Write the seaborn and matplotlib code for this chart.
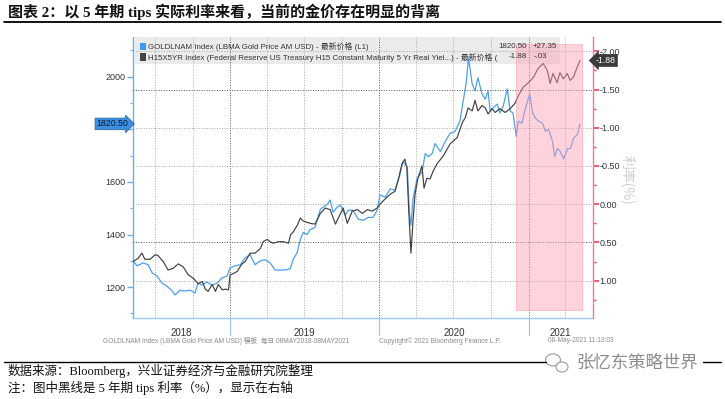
import numpy as np
import pandas as pd
import matplotlib
matplotlib.use("Agg")
import matplotlib.pyplot as plt
import matplotlib.dates as mdates
import matplotlib.ticker as mticker
import matplotlib.transforms as mtrans
from matplotlib.patches import Rectangle, Ellipse
from matplotlib.lines import Line2D
from matplotlib import font_manager as fm
import seaborn as sns

# ---------------- data ----------------
gold_dates = [
    "2018-05-08", "2018-05-18", "2018-06-02", "2018-06-14", "2018-06-24", "2018-07-06", "2018-07-18",
    "2018-07-30", "2018-08-12", "2018-08-19", "2018-08-31", "2018-09-12", "2018-09-25", "2018-10-07",
    "2018-10-14", "2018-10-24", "2018-11-05", "2018-11-18", "2018-11-30", "2018-12-12", "2018-12-24",
    "2019-01-01", "2019-01-13", "2019-01-26", "2019-02-07", "2019-02-19", "2019-03-03", "2019-03-16",
    "2019-03-28", "2019-04-09", "2019-04-21", "2019-05-04", "2019-05-16", "2019-05-28", "2019-06-04",
    "2019-06-14", "2019-06-22", "2019-06-29", "2019-07-09", "2019-07-16", "2019-07-28", "2019-08-10",
    "2019-08-17", "2019-08-27", "2019-09-03", "2019-09-10", "2019-09-20", "2019-09-28", "2019-10-10",
    "2019-10-17", "2019-10-29", "2019-11-11", "2019-11-23", "2019-12-05", "2019-12-17", "2019-12-27",
    "2020-01-03", "2020-01-16", "2020-01-28", "2020-02-09", "2020-02-21", "2020-02-28", "2020-03-10",
    "2020-03-15", "2020-03-19", "2020-03-24", "2020-04-03", "2020-04-15", "2020-04-23", "2020-04-30",
    "2020-05-10", "2020-05-17", "2020-05-30", "2020-06-11", "2020-06-23", "2020-07-05", "2020-07-17",
    "2020-07-25", "2020-08-01", "2020-08-07", "2020-08-16", "2020-08-23", "2020-08-30", "2020-09-09",
    "2020-09-17", "2020-09-24", "2020-09-29", "2020-10-06", "2020-10-16", "2020-10-23", "2020-10-31",
    "2020-11-10", "2020-11-17", "2020-11-24", "2020-12-02", "2020-12-07", "2020-12-16", "2020-12-24",
    "2021-01-04", "2021-01-11", "2021-01-18", "2021-01-26", "2021-02-04", "2021-02-12", "2021-02-19",
    "2021-03-01", "2021-03-06", "2021-03-13", "2021-03-20", "2021-03-28", "2021-04-07", "2021-04-14",
    "2021-04-21", "2021-05-01", "2021-05-07",
]
gold_values = [
    1300, 1281, 1292, 1285, 1254, 1242, 1215, 1204, 1185, 1170, 1188, 1185, 1188, 1177, 1215, 1208,
    1219, 1208, 1215, 1235, 1242,
    1273, 1281, 1285, 1312, 1323, 1285, 1300, 1304, 1292, 1265, 1265, 1265, 1269, 1304, 1331, 1381,
    1408, 1400, 1419, 1427, 1496, 1504, 1515, 1531, 1485, 1504, 1512, 1473, 1492, 1492, 1458, 1454,
    1465, 1465, 1492,
    1550, 1542, 1573, 1569, 1627, 1677, 1658, 1485, 1435, 1535, 1612, 1638, 1708, 1696, 1708, 1746,
    1715, 1754, 1785, 1792, 1831, 1908, 1973, 2070, 1973, 1946, 1996, 1935, 1915, 1946, 1869, 1881,
    1896, 1862, 1888, 1954, 1869, 1862, 1773, 1831, 1823, 1877,
    1935, 1862, 1842, 1831, 1823, 1792, 1800, 1754, 1696, 1727, 1715, 1688, 1727, 1727, 1765, 1781,
    1820.5,
]

rate_dates = [
    "2018-05-08", "2018-05-20", "2018-05-30", "2018-06-06", "2018-06-19", "2018-07-01", "2018-07-08",
    "2018-07-21", "2018-08-02", "2018-08-14", "2018-08-27", "2018-09-08", "2018-09-20", "2018-10-03",
    "2018-10-15", "2018-10-25", "2018-11-01", "2018-11-08", "2018-11-18", "2018-11-26", "2018-12-03",
    "2018-12-13", "2018-12-20", "2018-12-28",
    "2019-01-01", "2019-01-08", "2019-01-18", "2019-01-30", "2019-02-07", "2019-02-19", "2019-03-03",
    "2019-03-16", "2019-03-23", "2019-04-02", "2019-04-09", "2019-04-17", "2019-04-29", "2019-05-12",
    "2019-05-24", "2019-05-29", "2019-06-05", "2019-06-15", "2019-06-22", "2019-06-29", "2019-07-16",
    "2019-07-28", "2019-08-10", "2019-08-22", "2019-09-03", "2019-09-16", "2019-09-23", "2019-10-05",
    "2019-10-15", "2019-10-27", "2019-11-09", "2019-11-21", "2019-12-03", "2019-12-15", "2019-12-27",
    "2020-01-03", "2020-01-16", "2020-01-28", "2020-02-09", "2020-02-16", "2020-02-26", "2020-03-04",
    "2020-03-09", "2020-03-14", "2020-03-19", "2020-03-24", "2020-03-29", "2020-04-05", "2020-04-15",
    "2020-04-20", "2020-04-27", "2020-05-05", "2020-05-12", "2020-05-22", "2020-06-06", "2020-06-23",
    "2020-07-10", "2020-07-23", "2020-07-30", "2020-08-06", "2020-08-16", "2020-08-23", "2020-08-30",
    "2020-09-09", "2020-09-17", "2020-09-24", "2020-10-04", "2020-10-11", "2020-10-23", "2020-11-05",
    "2020-11-17", "2020-11-29", "2020-12-07", "2020-12-19",
    "2021-01-01", "2021-01-13", "2021-01-25", "2021-02-06", "2021-02-16", "2021-02-23", "2021-03-02",
    "2021-03-12", "2021-03-19", "2021-03-27", "2021-04-06", "2021-04-13", "2021-04-21", "2021-04-30",
    "2021-05-07",
]
rate_values = [
    0.75, 0.71, 0.64, 0.72, 0.72, 0.66, 0.67, 0.75, 0.86, 0.84, 0.78, 0.82, 0.92, 0.97, 1.04, 1.01,
    1.11, 1.14, 1.05, 1.14, 1.05, 1.12, 1.11, 1.12,
    0.92, 0.91, 0.88, 0.78, 0.75, 0.64, 0.64, 0.58, 0.49, 0.46, 0.49, 0.51, 0.49, 0.49, 0.51, 0.40,
    0.36, 0.27, 0.18, 0.22, 0.25, 0.26, 0.12, 0.05, 0.07, 0.26, 0.18, 0.05, 0.25, 0.09, 0.07, 0.12,
    0.07, 0.09, 0.05,
    0.00, -0.07, -0.13, -0.17, -0.30, -0.53, -0.59, -0.47, 0.13, 0.64, 0.22, -0.13, -0.34, -0.50,
    -0.21, -0.34, -0.33, -0.43, -0.53, -0.63, -0.79, -0.87, -1.07, -1.13, -1.26, -1.22, -1.36, -1.22,
    -1.29, -1.26, -1.18, -1.25, -1.20, -1.25, -1.20, -1.25, -1.32, -1.42, -1.53,
    -1.59, -1.66, -1.78, -1.84, -1.75, -1.58, -1.71, -1.59, -1.72, -1.64, -1.71, -1.62, -1.66, -1.79,
    -1.88,
]

gold_ticks = [1200, 1400, 1600, 1800, 2000]
rate_ticks = [-2.0, -1.5, -1.0, -0.5, 0.0, 0.5, 1.0]
year_labels = [2018, 2019, 2020, 2021]
shade_start, shade_end = "2020-12-02", "2021-05-13"
gold_last, gold_chg = "1820.50", "+27.35"
rate_last, rate_chg = "-1.88", "-.03"

title = "图表 2：以 5 年期 tips 实际利率来看，当前的金价存在明显的背离"
legend1 = "GOLDLNAM Index (LBMA Gold Price AM USD) - 最新价格 (L1)"
legend2 = "H15X5YR Index (Federal Reserve US Treasury H15 Constant Maturity 5 Yr Real Yiel...) - 最新价格 ("
source = "数据来源：Bloomberg，兴业证券经济与金融研究院整理"
note = "注：图中黑线是 5 年期 tips 利率（%），显示在右轴"
foot1 = "GOLDLNAM Index (LBMA Gold Price AM USD) 模板  每日 08MAY2018-08MAY2021"
foot2 = "Copyright© 2021 Bloomberg Finance L.P."
foot3 = "08-May-2021 11:13:03"
watermark = "张忆东策略世界"
right_title = "利率(%)"

gold_df = pd.DataFrame({"date": pd.to_datetime(gold_dates), "gold": gold_values})
rate_df = pd.DataFrame({"date": pd.to_datetime(rate_dates), "rate": rate_values})

# ---------------- style ----------------
sns.set_style("white")
plt.rcParams["font.family"] = ["Liberation Sans", "Noto Sans CJK SC", "DejaVu Sans"]
plt.rcParams["axes.unicode_minus"] = False

names = {f.name for f in fm.fontManager.ttflist}
if "Liberation Sans Narrow" in names:
    small_font = ["Liberation Sans Narrow", "Noto Sans CJK SC"]
    leg_fs = 6.3
else:
    small_font = ["Liberation Sans", "Noto Sans CJK SC"]
    leg_fs = 5.65
serif_cjk = ["Liberation Serif", "Noto Sans CJK SC", "DejaVu Sans"]

BLUE = "#4a9ff5"
DARK = "#404040"
RED = "#f0506e"
AXBLUE = "#6aaef0"

W, H = 725, 399
fig = plt.figure(figsize=(W / 100, H / 100), dpi=100)


def fx(px):
    return px / W


def fy(py):
    return 1 - py / H


ax = fig.add_axes([fx(133), fy(318), fx(593) - fx(133), fy(37) - fy(318)])
ax2 = ax.twinx()

x0, x1 = pd.Timestamp("2018-05-08"), pd.Timestamp("2021-06-08")

# lines
sns.lineplot(data=gold_df, x="date", y="gold", ax=ax, color=BLUE, lw=0.9, zorder=3)
sns.lineplot(data=rate_df, x="date", y="rate", ax=ax2, color=DARK, lw=0.85, zorder=3)

ax.set_xlim(x0, x1)
ax.set_ylim(1082.5, 2151)
ax2.set_ylim(1.488, -2.187)
for a in (ax, ax2):
    a.set_xlabel("")
    a.set_ylabel("")

# spines
for s in ("top", "right"):
    ax.spines[s].set_visible(False)
for s in ("top", "left", "bottom"):
    ax2.spines[s].set_visible(False)
ax.spines["left"].set_color(AXBLUE)
ax.spines["bottom"].set_color("#9cc9f2")
ax2.spines["right"].set_color("#f57a90")
for s in ("left", "bottom"):
    ax.spines[s].set_linewidth(1.0)
ax2.spines["right"].set_linewidth(1.0)

# y ticks (left, gold) - the 1800 label sits under the last-value tag
ax.set_yticks(gold_ticks)
ax.yaxis.set_minor_locator(mticker.MultipleLocator(100))
ax.yaxis.set_major_formatter(mticker.FuncFormatter(
    lambda v, p: "" if abs(v - 1800) < 1 else f"{v:.0f}"))
ax.tick_params(axis="y", which="major", colors=AXBLUE, labelcolor="#333333", labelsize=6.5,
               length=4, width=1.0, pad=1.5)
ax.tick_params(axis="y", which="minor", colors=AXBLUE, length=2, width=0.8)

# y ticks (right, rate, inverted)
ax2.set_yticks(rate_ticks)
ax2.yaxis.set_minor_locator(mticker.MultipleLocator(0.25))
ax2.yaxis.set_major_formatter(mticker.FuncFormatter(lambda v, p: f"{v:.2f}"))
ax2.tick_params(axis="y", which="major", colors=RED, labelcolor="#333333", labelsize=6.5,
                length=4, width=1.3, pad=0.5)
ax2.tick_params(axis="y", which="minor", colors=RED, length=2, width=1.0)

# x ticks: year labels centred in each year segment, monthly minor ticks
centers = []
for y in year_labels:
    a = max(pd.Timestamp(f"{y}-01-01"), x0)
    b = min(pd.Timestamp(f"{y + 1}-01-01"), x1)
    centers.append(a + (b - a) / 2)
ax.set_xticks(centers)
ax.set_xticklabels([str(y) for y in year_labels])
ax.xaxis.set_minor_locator(mdates.MonthLocator())
ax.tick_params(axis="x", which="major", length=0, labelsize=7, labelcolor="#333333", pad=7)
ax.tick_params(axis="x", which="minor", length=2.5, colors=AXBLUE, width=0.8)

blend = mtrans.blended_transform_factory(ax.transData, ax.transAxes)
for y in year_labels[1:]:
    d = mdates.date2num(pd.Timestamp(f"{y}-01-01"))
    ax.add_line(Line2D([d, d], [0, -0.06], transform=blend, color="#9cc9f2", lw=0.9, clip_on=False))

# grid: quarterly verticals, horizontals at rate ticks
for q in pd.date_range("2018-07-01", "2021-04-01", freq="QS"):
    yr_start = q.month == 1
    ax.axvline(q, color="#555555" if yr_start else "#a8a8a8", lw=0.7, ls=(0, (1, 1.6)), zorder=1)
for r in rate_ticks:
    dark = r in (-1.5, 0.5)
    ax2.axhline(r, color="#555555" if dark else "#a8a8a8", lw=0.7, ls=(0, (1, 1.6)), zorder=1)

# shaded region
ax2.axvspan(pd.Timestamp(shade_start), pd.Timestamp(shade_end), ymin=0.0285, ymax=0.975,
            facecolor="#ff9fb2", alpha=0.45, edgecolor="#ff7f98", lw=0.6, zorder=5)

# legend box
ax.add_patch(Rectangle((0.004, 0.904), 0.924, 0.096, transform=ax.transAxes,
                       facecolor="#ebebeb", edgecolor="none", zorder=0.5, clip_on=False))
fig.add_artist(Rectangle((fx(139.5), fy(50)), fx(6), 7 / H, facecolor="#3d9af5", edgecolor="none"))
fig.add_artist(Rectangle((fx(139.5), fy(60.5)), fx(6), 7 / H, facecolor="#444444", edgecolor="none"))
fig.text(fx(148), fy(46.5), legend1, fontsize=leg_fs, family=small_font, color="#333333", va="center")
fig.text(fx(148), fy(57), legend2, fontsize=leg_fs, family=small_font, color="#333333", va="center")
fig.text(fx(527), fy(46.5), gold_last, fontsize=leg_fs, family=small_font, color="#333333",
         va="center", ha="right")
fig.text(fx(533), fy(46.5), gold_chg, fontsize=leg_fs, family=small_font, color="#333333", va="center")
fig.text(fx(527), fy(57), rate_last, fontsize=leg_fs, family=small_font, color="#333333",
         va="center", ha="right")
fig.text(fx(534), fy(57), rate_chg, fontsize=leg_fs, family=small_font, color="#333333", va="center")

# last-value tags
ax.annotate(gold_last, xy=(0, gold_values[-1]), xycoords=("axes fraction", "data"),
            xytext=(-3.5, 0), textcoords="offset points", ha="right", va="center",
            fontsize=6.3, color="#0a1a33", annotation_clip=False, zorder=10,
            bbox=dict(boxstyle="rarrow,pad=0.15", fc="#3a8fe0", ec="#1f5fa0", lw=0.5))
ax2.annotate(rate_last, xy=(1, rate_values[-1]), xycoords=("axes fraction", "data"),
             xytext=(2.0, 0), textcoords="offset points", ha="left", va="center",
             fontsize=6.3, color="white", annotation_clip=False, zorder=10,
             bbox=dict(boxstyle="larrow,pad=0.18", fc="#3a3a3a", ec="#3a3a3a", lw=0.5))

# faint right axis title
fig.text(fx(628), fy(180), right_title, rotation=270, fontsize=10, color="#cfcfcf",
         ha="center", va="center", family=["Noto Sans CJK SC"])

# bloomberg footer lines under the axis
fig.text(fx(103), fy(341), foot1, fontsize=4.8, family=small_font, color="#8a8a8a", va="center")
fig.text(fx(379), fy(341), foot2, fontsize=4.8, family=small_font, color="#8a8a8a", va="center")
fig.text(fx(548), fy(341), foot3, fontsize=4.8, family=small_font, color="#8a8a8a", va="center")

# title and rules
fig.text(fx(8), fy(12), title, fontsize=10.8, fontweight="bold", family=serif_cjk, va="center",
         color="#111111")
fig.add_artist(Line2D([fx(4), fx(721)], [fy(21.5), fy(21.5)], color="black", lw=1.3))
fig.add_artist(Line2D([fx(4), fx(546)], [fy(362), fy(362)], color="black", lw=1.0))
fig.add_artist(Line2D([fx(703), fx(721)], [fy(362), fy(362)], color="black", lw=1.0))

fig.text(fx(8), fy(371), source, fontsize=9, family=serif_cjk, va="center", color="#111111")
fig.text(fx(8), fy(388), note, fontsize=9, family=serif_cjk, va="center", color="#111111")

# watermark
fig.add_artist(Ellipse((fx(553), fy(360)), 15 / W, 12 / H, facecolor="none", edgecolor="#9a9a9a", lw=0.8))
fig.add_artist(Ellipse((fx(562), fy(367)), 12 / W, 10 / H, facecolor="white", edgecolor="#9a9a9a", lw=0.8))
fig.text(fx(576), fy(363), watermark, fontsize=12.5, family=["Noto Sans CJK SC"], color="#8c8c8c",
         va="center")

fig.savefig("out.png", dpi=100)
